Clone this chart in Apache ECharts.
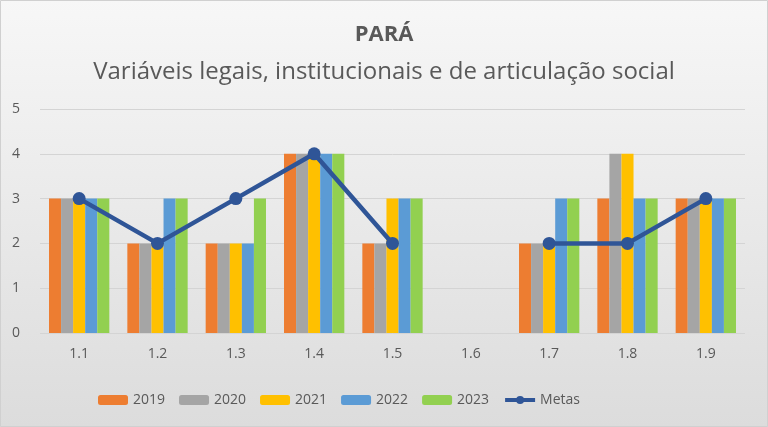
<!DOCTYPE html>
<html><head><meta charset="utf-8">
<script src="https://cdn.jsdelivr.net/npm/echarts@6/dist/echarts.min.js"></script>
<style>html,body{margin:0;padding:0;}#c{width:768px;height:427px;}</style>
</head><body><div id="c"></div>
<script>
const categories = ['1.1','1.2','1.3','1.4','1.5','1.6','1.7','1.8','1.9'];
const s2019 = [3,2,2,4,2,null,2,3,3];
const s2020 = [3,2,2,4,2,null,2,4,3];
const s2021 = [3,2,2,4,3,null,2,4,3];
const s2022 = [3,3,2,4,3,null,3,3,3];
const s2023 = [3,3,3,4,3,null,3,3,3];
const metas = [3,2,3,4,2,null,2,2,3];
const seriesNames = ['2019','2020','2021','2022','2023'];
const colors = ['#ED7D31','#A5A5A5','#FFC000','#5B9BD5','#92D050'];
const barData = [s2019,s2020,s2021,s2022,s2023];
const font = '"Open Sans", "Liberation Sans", sans-serif';

const chart = echarts.init(document.getElementById('c'));
const series = barData.map((d,i)=>({
  name: seriesNames[i], type:'bar', data:d, barGap:'0%', barCategoryGap:'23%',
  itemStyle:{color:colors[i]}
}));
series.push({
  name:'Metas', type:'line', data:metas, connectNulls:false,
  lineStyle:{color:'#2F5597', width:4.5}, itemStyle:{color:'#2F5597'},
  symbol:'circle', symbolSize:13, z:5
});
chart.setOption({
  backgroundColor: new echarts.graphic.LinearGradient(0,0,0,1,[{offset:0,color:'#f7f7f7'},{offset:1,color:'#dcdcdc'}]),
  animation:false,
  title:[
    {text:'PARÁ', left:'center', top:19, textStyle:{fontFamily:font, fontSize:22, fontWeight:'bold', color:'#595959'}},
    {text:'Variáveis legais, institucionais e de articulação social', left:'center', top:55, textStyle:{fontFamily:font, fontSize:24, fontWeight:'normal', color:'#595959'}}
  ],
  grid:{left:40, right:23, top:109, bottom:94},
  legend:{
    top:388, left:93, itemWidth:30, itemHeight:10, itemGap:14,
    textStyle:{fontFamily:font, fontSize:14, color:'#595959'},
    data:['2019','2020','2021','2022','2023',
      {name:'Metas', itemStyle:{color:'#2F5597'}, lineStyle:{width:4, color:'#2F5597'}}]
  },
  xAxis:{type:'category', data:categories,
    axisLine:{show:false}, axisTick:{show:false},
    axisLabel:{fontFamily:font, fontSize:14, color:'#595959', margin:14}},
  yAxis:{type:'value', min:0, max:5, interval:1,
    axisLabel:{fontFamily:font, fontSize:14, color:'#595959', margin:20},
    splitLine:{lineStyle:{color:'#d4d4d4', width:1}}},
  series:series,
  graphic:[{type:'rect', shape:{x:0.5,y:0.5,width:767,height:426}, style:{fill:'none', stroke:'#d0d0d0', lineWidth:1}}]
});
</script></body></html>
